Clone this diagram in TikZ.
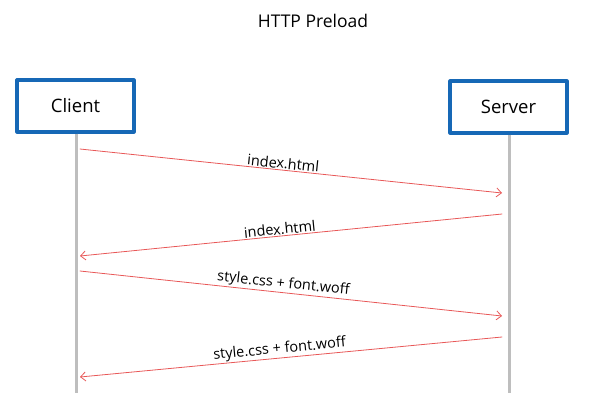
\documentclass[tikz,border=0pt]{standalone}
\usepackage{fontspec}
\setmainfont{Open Sans}
\usetikzlibrary{arrows.meta}
\definecolor{boxblue}{RGB}{22,104,182}
\definecolor{msgred}{RGB}{232,88,88}
\definecolor{lifegray}{RGB}{190,190,190}
\tikzset{
  actor/.style={draw=boxblue, line width=3.2pt, minimum width=117pt, minimum height=52pt, font=\fontsize{18.5}{20}\selectfont},
  msg/.style={draw=msgred, line width=0.8pt, -{Straight Barb[length=5pt, width=9pt]}},
  msglabel/.style={font=\fontsize{14.5}{16}\selectfont, sloped, above, inner sep=1pt}
}
\begin{document}
\begin{tikzpicture}[x=1pt, y=-1pt, line join=round, line cap=round]
	\useasboundingbox (0,0) rectangle (591,413);
	\node (title) at (313,21) {\fontsize{17.5}{20}\selectfont HTTP Preload};
	\node[actor] (client) at (75.5,106) {Client};
	\node[actor] (server) at (508.5,107) {Server};
	% lifelines
	\coordinate (cend) at (76,393);
	\coordinate (send) at (509,393);
	\draw[lifegray, line width=3pt, line cap=butt] (client.south -| cend) -- (cend);
	\draw[lifegray, line width=3pt, line cap=butt] (server.south -| send) -- (send);
	% messages
	\foreach \i/\a/\b in {1/149/193, 2/256/214, 3/271/316, 4/377/337}{
		\coordinate (c\i) at (80,\a);
		\coordinate (s\i) at (502,\b);}
	\draw[msg] (c1) -- node[msglabel, pos=0.48] (m1) {index.html} (s1);
	\draw[msg] (s2) -- node[msglabel, pos=0.525] (m2) {index.html} (c2);
	\draw[msg] (c3) -- node[msglabel, pos=0.48] (m3) {style.css + font.woff} (s3);
	\draw[msg] (s4) -- node[msglabel, pos=0.525] (m4) {style.css + font.woff} (c4);
\end{tikzpicture}
\end{document}
